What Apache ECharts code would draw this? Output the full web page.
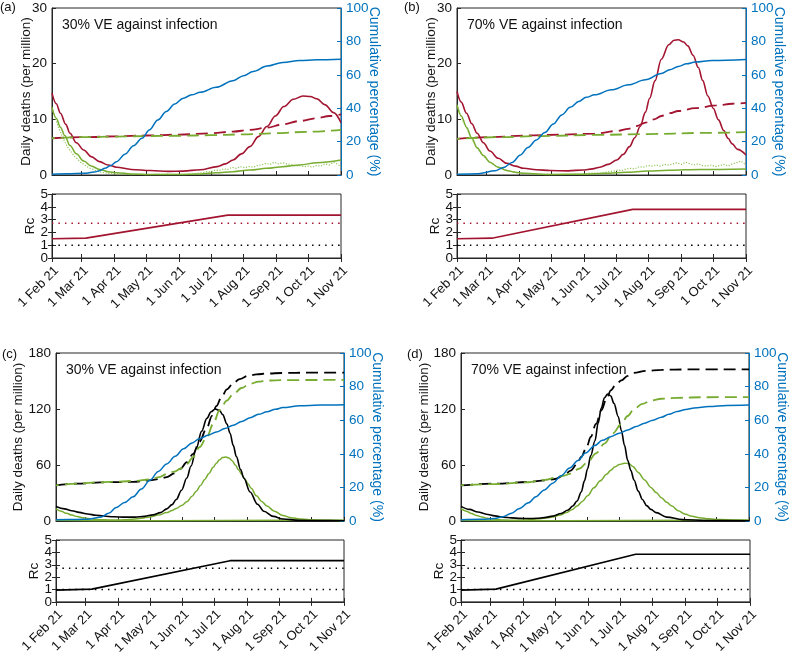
<!doctype html>
<html>
<head>
<meta charset="utf-8">
<script src="https://cdn.jsdelivr.net/npm/echarts@6/dist/echarts.min.js"></script>
<style>
  html, body { margin: 0; padding: 0; background: #fff; }
  #main { width: 790px; height: 657px; }
</style>
</head>
<body>
<div id="main"></div>
<script>
// x axis: days since 1 Feb 2021, ticks on each month start
var monthStarts = ['2021-02-01', '2021-03-01', '2021-04-01', '2021-05-01', '2021-06-01',
                   '2021-07-01', '2021-08-01', '2021-09-01', '2021-10-01', '2021-11-01'];
var monthLabels = ['1 Feb 21', '1 Mar 21', '1 Apr 21', '1 May 21', '1 Jun 21',
                   '1 Jul 21', '1 Aug 21', '1 Sep 21', '1 Oct 21', '1 Nov 21'];
var monthDays = monthStarts.map(function (s) {
    return Math.round((Date.parse(s) - Date.parse(monthStarts[0])) / 86400000);
});
var lastDay = monthDays[monthDays.length - 1];

// Rc tick labels, split over two axes so none gets dropped
var rcTicksEven = [0, 2, 4];
var rcTicksOdd = [1, 3, 5];

var panelTitles = ['30% VE against infection', '70% VE against infection',
                   '30% VE against infection', '70% VE against infection'];
var panelTags = ['(a)', '(b)', '(c)', '(d)'];

// Rc thresholds (dotted)
var rcHigh = [[0, 2.72], [273, 2.72]];
var rcLow = [[0, 1], [273, 1]];

// ---- panel (a)
var aRedSolid = [[0,14.7],[4,12.8],[8,11.1],[13,9.1],[17,7.5],[23,5.8],[30,4.5],[37,3.3],[45,2.4],[53,1.8],[61,1.4],[75,1.0],[93,0.8],[110,0.65],[124,0.7],[140,0.95],[156,1.5],[164,2.0],[171,2.7],[179,3.8],[187,5.1],[195,6.9],[203,8.7],[211,10.6],[219,12.3],[228,13.6],[237,14.2],[244,14.1],[250,13.7],[258,12.6],[266,11.2],[273,9.4]];
var aRedDashed = [[0,6.6],[30,6.8],[60,6.95],[90,7.1],[120,7.25],[150,7.5],[171,7.8],[187,8.1],[203,8.5],[218,9.1],[234,9.7],[250,10.2],[262,10.6],[273,10.9]];
var aGreenSolid = [[0,12.2],[4,10.2],[8,8.6],[12,7.1],[17,5.3],[23,3.8],[30,2.5],[37,1.6],[45,1.0],[53,0.6],[61,0.4],[75,0.2],[93,0.1],[120,0.1],[140,0.2],[155,0.4],[171,0.6],[187,0.9],[203,1.2],[218,1.5],[234,1.8],[250,2.2],[273,2.7]];
var aGreenDashed = [[0,6.6],[30,6.8],[60,6.9],[90,7.0],[120,7.05],[150,7.15],[180,7.3],[210,7.5],[240,7.75],[273,8.1]];
var aGreenDots = [[0,12.0],[3,10.4],[6,8.6],[9,7.3],[12,6.0],[15,4.9],[18,4.2],[21,3.4],[24,2.9],[27,2.3],[30,1.9],[33,1.5],[36,1.2],[39,1.0],[42,0.7],[45,0.55],[48,0.45],[52,0.3],[56,0.25],[60,0.2],[65,0.1],[70,0.15],[75,0.05],[80,0.1],[85,0.1],[90,0.05],[95,0.1],[100,0.15],[105,0.1],[110,0.2],[115,0.1],[120,0.1],[125,0.1],[130,0.15],[134,0.2],[138,0.35],[142,0.4],[146,0.6],[150,0.55],[154,0.9],[158,0.8],[162,1.1],[166,1.0],[170,1.4],[174,1.2],[178,1.5],[182,1.3],[186,1.5],[190,1.4],[194,1.7],[198,1.8],[202,2.1],[206,1.9],[210,2.3],[214,2.0],[218,2.2],[222,2.0],[226,1.9],[230,1.6],[234,1.7],[238,1.5],[242,1.6],[246,1.4],[250,1.7],[254,1.6],[258,2.0],[262,1.8],[266,2.3],[270,1.9],[273,1.5]];
var aBlue = [[0,0.5],[15,0.7],[30,1.0],[40,1.8],[45,2.6],[50,4],[55,5.5],[61,8],[69,12.5],[77,17.5],[85,22],[92,27],[100,33],[108,38],[116,42.5],[124,46],[132,48],[140,49.5],[155,52.5],[171,56.5],[181,59.5],[190,62],[203,65.2],[218,67.4],[234,68.5],[250,69],[273,69.3]];
var aRc = [[0,1.5],[32,1.55],[166,3.35],[273,3.35]];

// ---- panel (b)
var bRedSolid = [[0,15.0],[4,13.1],[9,11.1],[14,9.2],[19,7.5],[25,5.8],[31,4.3],[39,3.0],[47,2.1],[55,1.6],[63,1.2],[75,0.95],[88,0.8],[105,0.75],[119,0.9],[128,1.1],[135,1.4],[143,1.9],[151,2.7],[157,3.7],[163,5.1],[168,6.7],[173,8.7],[178,11.3],[182,13.8],[187,16.9],[193,20.8],[200,23.4],[205,24.2],[209,24.3],[214,23.9],[218,23.2],[223,21.5],[228,19.3],[232,17.0],[237,14.2],[242,12.0],[247,9.9],[252,8.0],[256,6.6],[260,5.6],[265,4.6],[273,3.6]];
var bRedDashed = [[0,6.5],[30,6.8],[67,7.1],[100,7.25],[130,7.45],[151,7.9],[162,8.3],[170,8.8],[178,9.4],[186,10.0],[193,10.6],[201,11.1],[209,11.5],[225,12.0],[245,12.5],[260,12.8],[273,12.95]];
var bGreenSolid = [[0,12.6],[4,10.6],[9,8.6],[14,6.6],[19,4.9],[25,3.5],[31,2.3],[39,1.4],[47,0.8],[55,0.5],[63,0.3],[90,0.1],[120,0.15],[140,0.3],[160,0.5],[180,0.7],[200,0.85],[230,1.0],[273,1.1]];
var bGreenDashed = [[0,6.5],[40,6.8],[80,7.0],[130,7.2],[180,7.35],[230,7.55],[273,7.7]];
var bGreenDots = [[0,12.6],[3,11.0],[6,9.6],[9,8.5],[12,7.2],[15,6.1],[18,5.1],[21,4.3],[24,3.6],[27,3.0],[30,2.5],[33,2.1],[36,1.7],[39,1.4],[42,1.2],[45,1.0],[48,0.8],[52,0.6],[56,0.45],[60,0.35],[65,0.25],[70,0.2],[75,0.15],[80,0.1],[85,0.15],[90,0.1],[95,0.1],[100,0.15],[105,0.1],[110,0.15],[115,0.2],[120,0.2],[125,0.3],[130,0.35],[135,0.3],[140,0.5],[144,0.6],[148,0.7],[152,0.9],[156,0.8],[160,1.1],[164,1.2],[168,1.1],[172,1.5],[176,1.4],[180,1.7],[184,1.6],[188,1.8],[192,1.6],[196,1.9],[200,1.8],[204,2.0],[208,2.2],[212,1.9],[216,2.3],[220,2.0],[224,1.8],[228,2.0],[232,1.7],[236,1.6],[240,1.8],[244,1.5],[248,1.7],[252,1.9],[256,1.6],[260,2.0],[264,2.2],[268,2.5],[271,2.1],[273,1.7]];
var bBlue = [[0,0.5],[20,0.8],[36,2.5],[44,4.5],[52,7.5],[60,12],[67,16.5],[75,21],[83,25.5],[91,30.5],[99,36],[107,40.5],[115,44],[122,46.5],[130,48],[146,51],[162,54],[178,57],[193,60.8],[201,63],[209,65],[217,66.6],[225,67.6],[241,68.6],[273,69.2]];
var bRc = [[0,1.5],[33,1.55],[166,3.8],[273,3.8]];

// ---- panel (c)
var cBlackSolid = [[0,15.5],[8,13],[15,11],[22,9.2],[30,7.5],[38,6.2],[45,5.3],[55,4.5],[65,4.1],[75,4.2],[84,5.0],[92,6.6],[99,9],[105,13],[110,17.5],[114,23],[119,33],[124,46],[128,59],[133,78],[138,96],[143,110],[147,117],[151,120],[155,118.5],[158,114],[162,104],[165,94],[168,81],[171,69],[175,55],[178,46],[184,31],[191,18],[197,10.5],[206,5],[215,2.2],[230,0.7],[250,0.4],[273,0.3]];
var cBlackDashed = [[0,38.2],[20,40],[42,41.3],[60,41.8],[73,42],[89,43.6],[98,45],[105,47],[112,51],[118,56],[124,63],[130,72],[136,85],[143,100],[148,113],[152,123],[157,133],[162,141],[168,147.5],[174,152],[182,155.5],[190,157],[200,158],[215,158.6],[240,158.9],[273,159]];
var cGreenSolid = [[0,13],[5,10.5],[10,8.2],[15,6.3],[20,4.8],[25,3.6],[30,2.7],[36,1.9],[42,1.4],[50,1.1],[57,1.0],[65,1.3],[73,1.9],[81,2.9],[89,4.4],[97,6.3],[105,9],[110,11.3],[114,13.5],[119,16.5],[124,20.5],[129,26.5],[133,32],[137,38],[141,44.5],[145,51],[149,57.5],[152,62],[155,65.5],[158,68],[161,68.5],[164,67.5],[167,64.5],[170,60],[173,55],[176,50],[179,45],[182,40],[185,35],[190,27],[195,21],[200,16],[207,10.5],[215,6],[223,3.5],[231,2.2],[240,1.3],[250,0.8],[273,0.5]];
var cGreenDashed = [[0,38.2],[20,40],[42,41.5],[60,42.2],[75,43],[89,44.5],[98,47],[105,50.5],[112,53],[118,56],[124,61],[130,68.5],[136,79],[143,90],[149,104],[155,118.6],[162,129],[168,136],[176,142.5],[184,147],[192,149.3],[200,150.5],[215,151],[273,151.2]];
var cGreenLow = [[0,0.8],[40,0.4],[100,0.4],[160,0.6],[220,0.7],[273,0.7]];
var cBlue = [[0,0.8],[20,0.9],[30,1.1],[42,2.2],[50,4.6],[57,8],[65,11],[73,14.4],[81,19],[89,24.2],[97,29.5],[105,34],[113,38.5],[121,43],[129,46.5],[136,49],[144,51],[152,53],[160,55],[168,57],[176,59.2],[184,61.5],[192,63.5],[200,65],[208,66.5],[215,67.5],[231,68.6],[250,69],[273,69.2]];
var cRc = [[0,0.95],[34,1.03],[165,3.33],[273,3.33]];

// ---- panel (d)
var dBlackSolid = [[0,15.7],[8,12.5],[16,9.6],[24,7.3],[32,5.5],[40,4.2],[48,3.3],[56,2.8],[64,2.6],[72,2.9],[79,3.6],[87,5.2],[95,8],[101,11.5],[106,16],[110,21.5],[114,31],[117,43],[120,56],[123,70],[127,86],[130,105],[133,121],[136,132],[139,136],[142,134],[145,126],[149,112],[152,97],[155,81],[158,65],[161,54],[164,44],[168,32],[172,23],[176,16.5],[180,12.5],[185,9],[195,4.2],[210,1.5],[230,0.5],[273,0.3]];
var dBlackDashed = [[0,38.2],[32,40],[64,41.8],[80,43.5],[89,45],[97,48.5],[104,54],[110,61],[114,68.6],[119,79],[123,90],[128,104],[133,118.6],[138,131],[142,140],[147,146.5],[152,150.7],[158,155.5],[164,158.6],[175,160.8],[190,162],[215,162.4],[273,162.5]];
var dGreenSolid = [[0,13.3],[5,10.5],[10,8],[15,5.8],[20,4.2],[25,3],[30,2.1],[36,1.4],[42,1.0],[50,0.8],[60,1.0],[68,1.6],[75,2.5],[82,3.5],[88,4.6],[94,6.3],[100,9],[105,12],[110,16],[115,21],[120,27],[126,35.5],[132,43],[138,50],[142,54.5],[146,58],[150,60.5],[155,62],[159,61.5],[163,58.5],[168,52],[174,44],[180,36],[185,30.5],[190,25],[195,20],[200,16],[206,11],[212,7.5],[219,5],[226,3.5],[235,2.3],[245,1.5],[260,1.0],[273,0.8]];
var dGreenDashed = [[0,38.2],[32,39.5],[64,41.5],[79,44],[90,46.5],[97,48.5],[104,50.7],[112,56],[120,63],[128,72.5],[136,83],[144,94],[152,104],[158,112.5],[164,120],[172,125.5],[180,129],[190,131],[205,132],[230,132.6],[273,132.8]];
var dGreenLow = [[0,0.8],[40,0.4],[100,0.4],[160,0.6],[220,0.7],[273,0.7]];
var dBlue = [[0,0.8],[20,1.0],[32,1.5],[40,2.6],[48,4.6],[55,7.3],[64,10.8],[71,14.5],[79,18.5],[87,22.5],[95,27],[103,31.5],[111,36],[118,40.5],[127,45],[134,48],[142,50.2],[150,52.2],[158,54.2],[166,56.2],[174,58.2],[182,60],[190,61.8],[197,63.5],[205,65.2],[213,66.4],[221,67.3],[235,68.2],[252,68.8],[273,69]];
var dRc = [[0,0.95],[33,1.03],[165,3.85],[273,3.85]];

var ink = '#262626', txt = '#111', blue = '#0072bd', red = '#a2142f', green = '#77ac30',
    dotGreen = '#93c45a', font = 'Liberation Sans';

var chart = echarts.init(document.getElementById('main'));

var grids = [], xAxes = [], yAxes = [], series = [], graphics = [];

function line(data, xi, yi, color, width, type, z, offset) {
    return {
        type: 'line', data: data, xAxisIndex: xi, yAxisIndex: yi,
        showSymbol: false, symbol: 'none', silent: true, z: z || 2,
        smooth: type === 'noise' || type === 'flat' ? false : 0.35, smoothMonotone: 'x',
        lineStyle: {
            color: color, width: width,
            type: type === 'dashed' ? [12, 6] : type === 'dotted' ? [1.5, 5] : type === 'noise' ? [1.2, 1.6] : 'solid',
            dashOffset: offset || 0
        }
    };
}

function xAxis(g, labels, top) {
    return {
        type: 'value', gridIndex: g, min: 0, max: lastDay, position: top ? 'top' : 'bottom',
        axisLine: { show: !top, lineStyle: { color: ink } },
        axisTick: { inside: true, length: 4, customValues: monthDays, lineStyle: { color: ink } },
        axisLabel: labels ? {
            customValues: monthDays, rotate: 45, fontSize: 13, color: txt, fontFamily: font, margin: 6,
            verticalAlign: 'top', hideOverlap: false,
            formatter: function (v) { var i = monthDays.indexOf(v); return i < 0 ? '' : monthLabels[i]; }
        } : { show: false },
        splitLine: { show: false }
    };
}

function yLabel(color, margin, custom) {
    var o = { fontSize: 13.5, color: color, fontFamily: font, margin: margin,
              showMinLabel: true, showMaxLabel: true, hideOverlap: false };
    if (custom) o.customValues = custom;
    return o;
}

function panel(p, left, top, width, cfg) {
    var mainH = p < 2 ? 167 : 168;
    var rcTop = p < 2 ? 194 : 540;
    grids.push({ left: left, top: top, width: width, height: mainH, show: true, borderColor: ink, borderWidth: 1 });
    grids.push({ left: left, top: rcTop, width: width, height: 64, show: true, borderColor: ink, borderWidth: 1 });
    var gm = 2 * p, gr = 2 * p + 1;
    var xm = xAxes.length;
    xAxes.push(xAxis(gm, false, false), xAxis(gr, true, false), xAxis(gr, false, true));
    var ym = yAxes.length;
    yAxes.push({
        type: 'value', gridIndex: gm, min: 0, max: cfg.yMax, interval: cfg.yStep, position: 'left',
        axisLine: { show: true, lineStyle: { color: ink } },
        axisTick: { inside: true, length: 4, lineStyle: { color: ink } },
        axisLabel: yLabel(txt, 5),
        splitLine: { show: false },
        name: 'Daily deaths (per million)', nameLocation: 'middle', nameGap: cfg.nameGap, nameMoveOverlap: false,
        nameTextStyle: { fontSize: 13.5, color: txt, fontFamily: font }
    }, {
        type: 'value', gridIndex: gm, min: 0, max: 100, interval: 20, position: 'right',
        axisLine: { show: true, lineStyle: { color: blue } },
        axisTick: { inside: true, length: 4, lineStyle: { color: blue } },
        axisLabel: yLabel(blue, 5),
        splitLine: { show: false },
        name: 'Cumulative percentage (%)', nameLocation: 'middle', nameGap: 26, nameRotate: -90, nameMoveOverlap: false,
        nameTextStyle: { fontSize: 14, color: blue, fontFamily: font }
    }, {
        type: 'value', gridIndex: gr, min: 0, max: 5, interval: 1, position: 'left',
        axisLine: { show: true, lineStyle: { color: ink } },
        axisTick: { inside: true, length: 4, lineStyle: { color: ink } },
        axisLabel: yLabel(txt, 4, rcTicksEven),
        splitLine: { show: false },
        name: 'Rc', nameLocation: 'middle', nameGap: 15, nameMoveOverlap: false,
        nameTextStyle: { fontSize: 13.5, color: txt, fontFamily: font }
    }, {
        type: 'value', gridIndex: gr, min: 0, max: 5, interval: 1, position: 'right',
        axisLine: { show: false }, axisTick: { inside: true, length: 4, lineStyle: { color: ink } },
        axisLabel: { show: false }, splitLine: { show: false }
    }, {
        type: 'value', gridIndex: gr, min: 0, max: 5, interval: 1, position: 'left',
        axisLine: { show: false }, axisTick: { show: false },
        axisLabel: yLabel(txt, 4, rcTicksOdd), splitLine: { show: false }
    });

    if (cfg.dots) series.push(line(cfg.dots, xm, ym, dotGreen, 1.2, 'noise', 1));
    if (cfg.low) series.push(line(cfg.low, xm, ym, green, 1.5, 'flat', 1));
    series.push(line(cfg.greenSolid, xm, ym, green, 1.5, 'solid', 2));
    series.push(line(cfg.mainSolid, xm, ym, cfg.mainColor, 1.6, 'solid', 3));
    series.push(line(cfg.mainDashed, xm, ym, cfg.mainColor, 1.8, 'dashed', 3));
    series.push(line(cfg.greenDashed, xm, ym, green, 1.8, 'dashed', 4, 9));
    series.push(line(cfg.blue, xm, ym + 1, blue, 1.5, 'solid', 5));

    series.push(line(rcLow, xm + 1, ym + 2, '#000', 1.5, 'dotted', 2));
    series.push(line(rcHigh, xm + 1, ym + 2, cfg.mainColor, 1.5, 'dotted', 2));
    series.push(line(cfg.rc, xm + 1, ym + 2, cfg.mainColor, 1.6, 'flat', 3));

    graphics.push({ type: 'text', left: cfg.tagX, top: cfg.tagY, style: { text: panelTags[p], fontSize: 13, fill: txt, fontFamily: font } });
    graphics.push({ type: 'text', left: left + 10, top: top + 10, style: { text: panelTitles[p], fontSize: 14, fill: txt, fontFamily: font } });
}

panel(0, 52, 8, 289, { yMax: 30, yStep: 10, nameGap: 19, mainColor: red, mainSolid: aRedSolid, mainDashed: aRedDashed,
    greenSolid: aGreenSolid, greenDashed: aGreenDashed, dots: aGreenDots, blue: aBlue, rc: aRc, tagX: 0, tagY: 1 });
panel(1, 457, 8, 289, { yMax: 30, yStep: 10, nameGap: 19, mainColor: red, mainSolid: bRedSolid, mainDashed: bRedDashed,
    greenSolid: bGreenSolid, greenDashed: bGreenDashed, dots: bGreenDots, blue: bBlue, rc: bRc, tagX: 404, tagY: 1 });
panel(2, 56, 353, 288, { yMax: 180, yStep: 60, nameGap: 31, mainColor: '#000', mainSolid: cBlackSolid, mainDashed: cBlackDashed,
    greenSolid: cGreenSolid, greenDashed: cGreenDashed, low: cGreenLow, blue: cBlue, rc: cRc, tagX: 2, tagY: 348 });
panel(3, 461, 353, 289, { yMax: 180, yStep: 60, nameGap: 30, mainColor: '#000', mainSolid: dBlackSolid, mainDashed: dBlackDashed,
    greenSolid: dGreenSolid, greenDashed: dGreenDashed, low: dGreenLow, blue: dBlue, rc: dRc, tagX: 407, tagY: 348 });

chart.setOption({
    animation: false,
    backgroundColor: '#fff',
    grid: grids,
    xAxis: xAxes,
    yAxis: yAxes,
    series: series,
    graphic: graphics
});
</script>
</body>
</html>
